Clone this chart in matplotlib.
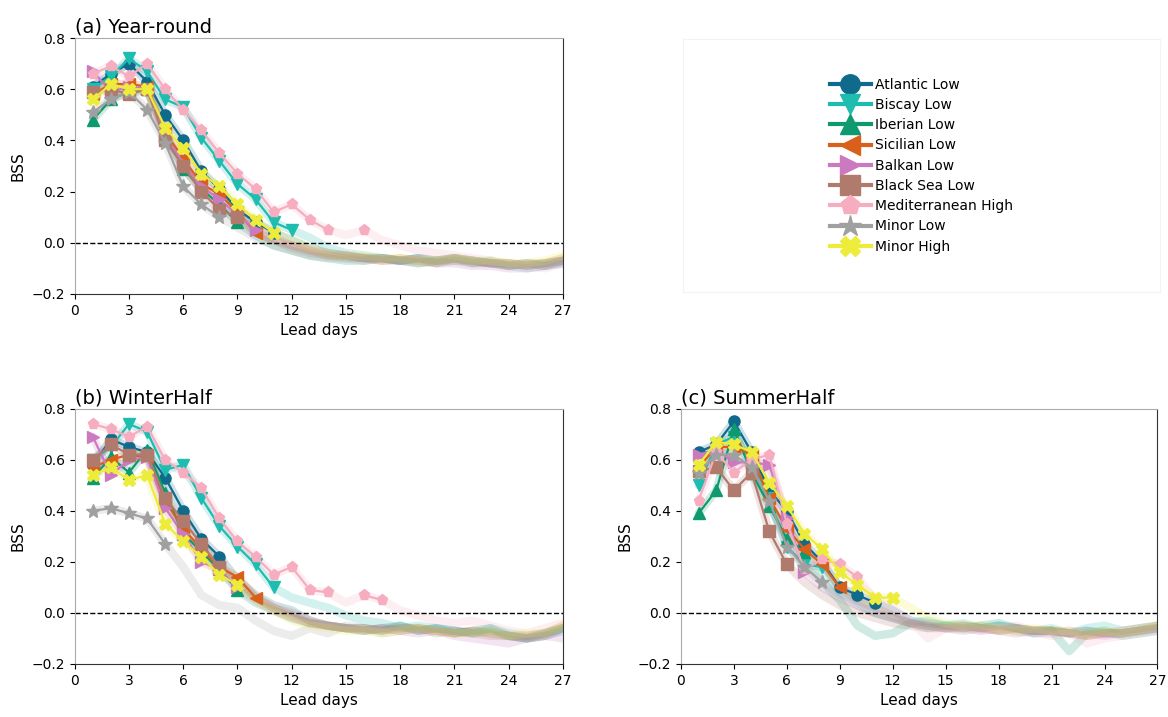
import numpy as np
import matplotlib
matplotlib.use('Agg')
import matplotlib.pyplot as plt
from matplotlib.lines import Line2D

days = list(range(1, 28))
names = ['Atlantic Low', 'Biscay Low', 'Iberian Low', 'Sicilian Low', 'Balkan Low',
         'Black Sea Low', 'Mediterranean High', 'Minor Low', 'Minor High']
colors = ['#0f6a8c', '#1fbdb0', '#0e9a6e', '#d9601a', '#cc7ac0',
          '#b07a6c', '#f7adc0', '#a0a0a0', '#eeec3a']
markers = ['o', 'v', '^', '<', '>', 's', 'p', '*', 'X']

# (a) Year-round
year_atl = [0.61, 0.66, 0.70, 0.63, 0.50, 0.40, 0.28, 0.21, 0.13, 0.08, 0.04, 0.01, -0.02, -0.04, -0.05, -0.06, -0.06, -0.07, -0.06, -0.07, -0.06, -0.07, -0.08, -0.08, -0.09, -0.08, -0.07]
year_bis = [0.60, 0.65, 0.72, 0.67, 0.56, 0.53, 0.41, 0.32, 0.23, 0.17, 0.08, 0.05, 0.02, -0.02, -0.04, -0.05, -0.06, -0.07, -0.06, -0.08, -0.07, -0.07, -0.08, -0.09, -0.10, -0.09, -0.08]
year_ibe = [0.48, 0.56, 0.59, 0.60, 0.43, 0.29, 0.21, 0.15, 0.08, 0.03, -0.01, -0.03, -0.05, -0.06, -0.07, -0.07, -0.06, -0.07, -0.08, -0.07, -0.06, -0.08, -0.07, -0.09, -0.08, -0.09, -0.07]
year_sic = [0.58, 0.62, 0.62, 0.61, 0.43, 0.33, 0.23, 0.19, 0.12, 0.04, 0.01, -0.01, -0.03, -0.05, -0.05, -0.06, -0.07, -0.06, -0.07, -0.08, -0.06, -0.07, -0.08, -0.08, -0.09, -0.08, -0.06]
year_bal = [0.67, 0.59, 0.61, 0.60, 0.42, 0.31, 0.22, 0.17, 0.11, 0.05, 0.02, -0.01, -0.03, -0.04, -0.05, -0.06, -0.06, -0.07, -0.07, -0.08, -0.08, -0.09, -0.09, -0.10, -0.10, -0.09, -0.08]
year_bla = [0.59, 0.60, 0.58, 0.60, 0.40, 0.30, 0.20, 0.13, 0.10, 0.04, 0.01, -0.02, -0.04, -0.05, -0.06, -0.06, -0.07, -0.07, -0.06, -0.07, -0.07, -0.08, -0.08, -0.09, -0.08, -0.08, -0.07]
year_med = [0.66, 0.69, 0.65, 0.70, 0.60, 0.52, 0.44, 0.35, 0.27, 0.21, 0.12, 0.15, 0.09, 0.05, 0.03, 0.05, 0.01, -0.01, -0.03, -0.04, -0.05, -0.06, -0.07, -0.08, -0.09, -0.10, -0.08]
year_mlo = [0.51, 0.56, 0.59, 0.52, 0.39, 0.22, 0.15, 0.10, 0.06, 0.02, -0.01, -0.03, -0.05, -0.06, -0.06, -0.07, -0.06, -0.07, -0.08, -0.07, -0.06, -0.07, -0.08, -0.09, -0.08, -0.09, -0.07]
year_mhi = [0.56, 0.62, 0.60, 0.60, 0.45, 0.37, 0.27, 0.22, 0.15, 0.09, 0.04, 0.01, -0.02, -0.04, -0.05, -0.05, -0.06, -0.06, -0.07, -0.07, -0.06, -0.07, -0.07, -0.08, -0.08, -0.07, -0.05]
year_sig = [list(range(1, 12)), list(range(1, 13)), list(range(1, 10)), list(range(1, 11)),
            list(range(1, 11)), list(range(1, 10)), list(range(1, 15)) + [16],
            list(range(1, 9)), list(range(1, 12))]

# (b) WinterHalf
win_atl = [0.58, 0.68, 0.65, 0.63, 0.53, 0.40, 0.29, 0.22, 0.13, 0.07, 0.03, 0.01, -0.03, -0.05, -0.06, -0.06, -0.07, -0.05, -0.07, -0.06, -0.07, -0.08, -0.07, -0.09, -0.10, -0.09, -0.07]
win_bis = [0.60, 0.65, 0.74, 0.71, 0.56, 0.58, 0.45, 0.34, 0.26, 0.19, 0.10, 0.06, 0.04, 0.02, -0.01, -0.03, -0.04, -0.06, -0.05, -0.06, -0.07, -0.08, -0.06, -0.08, -0.09, -0.08, -0.06]
win_ibe = [0.53, 0.61, 0.55, 0.64, 0.47, 0.31, 0.24, 0.17, 0.09, 0.04, 0.01, -0.02, -0.04, -0.05, -0.06, -0.07, -0.06, -0.05, -0.07, -0.06, -0.08, -0.07, -0.06, -0.09, -0.10, -0.08, -0.06]
win_sic = [0.57, 0.60, 0.62, 0.61, 0.44, 0.33, 0.25, 0.18, 0.14, 0.06, 0.02, -0.01, -0.04, -0.05, -0.06, -0.06, -0.07, -0.06, -0.06, -0.07, -0.08, -0.07, -0.08, -0.09, -0.09, -0.08, -0.05]
win_bal = [0.69, 0.54, 0.60, 0.61, 0.41, 0.31, 0.20, 0.17, 0.10, 0.05, 0.01, -0.02, -0.04, -0.05, -0.06, -0.07, -0.06, -0.07, -0.08, -0.07, -0.09, -0.10, -0.11, -0.12, -0.10, -0.09, -0.10]
win_bla = [0.60, 0.66, 0.62, 0.62, 0.45, 0.36, 0.27, 0.18, 0.12, 0.06, 0.02, 0.00, -0.03, -0.05, -0.06, -0.07, -0.06, -0.07, -0.06, -0.08, -0.07, -0.08, -0.09, -0.09, -0.10, -0.09, -0.06]
win_med = [0.74, 0.72, 0.69, 0.73, 0.60, 0.55, 0.49, 0.37, 0.28, 0.22, 0.15, 0.18, 0.09, 0.08, 0.04, 0.07, 0.05, 0.01, -0.01, -0.03, -0.04, -0.03, -0.05, -0.07, -0.08, -0.06, -0.04]
win_mlo = [0.40, 0.41, 0.39, 0.37, 0.27, 0.18, 0.07, 0.03, 0.02, -0.03, -0.07, -0.09, -0.06, -0.08, -0.05, -0.06, -0.08, -0.07, -0.06, -0.07, -0.08, -0.07, -0.08, -0.09, -0.10, -0.08, -0.06]
win_mhi = [0.54, 0.57, 0.52, 0.54, 0.35, 0.28, 0.22, 0.15, 0.11, 0.05, 0.01, -0.03, -0.05, -0.06, -0.07, -0.07, -0.08, -0.07, -0.06, -0.07, -0.08, -0.08, -0.07, -0.09, -0.08, -0.08, -0.05]
win_sig = [list(range(1, 9)), list(range(1, 12)), list(range(1, 10)), list(range(1, 11)),
           list(range(1, 10)), list(range(1, 9)), list(range(1, 15)) + [16, 17],
           list(range(1, 6)), list(range(1, 10))]

# (c) SummerHalf
sum_atl = [0.63, 0.66, 0.75, 0.63, 0.48, 0.40, 0.27, 0.20, 0.10, 0.07, 0.04, 0.01, -0.03, -0.04, -0.05, -0.05, -0.06, -0.05, -0.06, -0.07, -0.07, -0.08, -0.07, -0.08, -0.08, -0.07, -0.06]
sum_bis = [0.50, 0.66, 0.69, 0.60, 0.45, 0.26, 0.19, 0.18, 0.08, 0.04, 0.00, -0.02, -0.04, -0.03, -0.05, -0.04, -0.06, -0.05, -0.06, -0.07, -0.06, -0.08, -0.06, -0.05, -0.07, -0.06, -0.05]
sum_ibe = [0.39, 0.48, 0.72, 0.55, 0.42, 0.29, 0.24, 0.12, 0.05, -0.05, -0.09, -0.08, -0.04, -0.06, -0.05, -0.06, -0.05, -0.04, -0.06, -0.08, -0.07, -0.15, -0.08, -0.07, -0.09, -0.08, -0.07]
sum_sic = [0.57, 0.65, 0.65, 0.62, 0.45, 0.33, 0.25, 0.19, 0.10, 0.05, 0.02, -0.01, -0.04, -0.05, -0.06, -0.05, -0.06, -0.07, -0.06, -0.07, -0.07, -0.08, -0.09, -0.08, -0.07, -0.06, -0.05]
sum_bal = [0.62, 0.64, 0.59, 0.59, 0.58, 0.37, 0.16, 0.10, 0.06, 0.03, 0.00, -0.02, -0.04, -0.05, -0.06, -0.06, -0.07, -0.06, -0.07, -0.08, -0.08, -0.07, -0.08, -0.09, -0.08, -0.07, -0.06]
sum_bla = [0.555, 0.57, 0.48, 0.55, 0.32, 0.19, 0.12, 0.07, 0.03, 0.00, -0.02, -0.04, -0.05, -0.06, -0.06, -0.07, -0.06, -0.07, -0.08, -0.07, -0.07, -0.08, -0.09, -0.08, -0.08, -0.07, -0.06]
sum_med = [0.44, 0.63, 0.55, 0.60, 0.62, 0.35, 0.17, 0.21, 0.19, 0.14, 0.05, 0.02, -0.03, -0.10, -0.06, -0.05, -0.07, -0.06, -0.05, -0.07, -0.09, -0.08, -0.12, -0.10, -0.09, -0.08, -0.07]
sum_mlo = [0.55, 0.62, 0.62, 0.57, 0.44, 0.26, 0.18, 0.12, 0.07, 0.03, 0.00, -0.02, -0.04, -0.05, -0.06, -0.06, -0.05, -0.07, -0.06, -0.07, -0.07, -0.08, -0.07, -0.08, -0.08, -0.07, -0.05]
sum_mhi = [0.58, 0.67, 0.66, 0.63, 0.51, 0.42, 0.31, 0.25, 0.16, 0.11, 0.06, 0.06, 0.02, -0.02, -0.04, -0.05, -0.05, -0.06, -0.07, -0.06, -0.07, -0.07, -0.08, -0.07, -0.08, -0.07, -0.05]
sum_sig = [list(range(1, 12)), list(range(1, 9)), list(range(1, 8)), list(range(1, 10)),
           list(range(1, 8)), list(range(1, 7)), list(range(1, 11)),
           list(range(1, 9)), list(range(1, 13))]

panels = [
    ('(a) Year-round', [year_atl, year_bis, year_ibe, year_sic, year_bal, year_bla, year_med, year_mlo, year_mhi], year_sig),
    ('(b) WinterHalf', [win_atl, win_bis, win_ibe, win_sic, win_bal, win_bla, win_med, win_mlo, win_mhi], win_sig),
    ('(c) SummerHalf', [sum_atl, sum_bis, sum_ibe, sum_sic, sum_bal, sum_bla, sum_med, sum_mlo, sum_mhi], sum_sig),
]

fig = plt.figure(figsize=(11.68, 7.17), dpi=100)
rects = [[0.064, 0.590, 0.418, 0.357],
         [0.064, 0.074, 0.418, 0.356],
         [0.583, 0.074, 0.408, 0.356]]

x = np.array(days)
for rect, (title, series, sig) in zip(rects, panels):
    ax = fig.add_axes(rect)
    # faded full curves
    for vals, c in zip(series, colors):
        ax.plot(x, vals, color=c, lw=6, alpha=0.2, solid_capstyle='round', zorder=1)
    # significant days with markers
    for vals, c, m, s in zip(series, colors, markers, sig):
        y = np.array(vals, dtype=float)
        mask = np.isin(x, s)
        y = np.where(mask, y, np.nan)
        ms = 10 if m == '*' else 8
        ax.plot(x, y, color=c, marker=m, ms=ms, lw=1.6, zorder=3)
    ax.axhline(0, color='k', ls='--', lw=1, zorder=2)
    ax.set_xlim(0, 27)
    ax.set_ylim(-0.2, 0.8)
    ax.set_xticks(range(0, 28, 3))
    ax.set_yticks([-0.2, 0.0, 0.2, 0.4, 0.6, 0.8])
    ax.tick_params(labelsize=10)
    ax.set_xlabel('Lead days', fontsize=11)
    ax.set_ylabel('BSS', fontsize=11)
    ax.set_title(title, loc='left', fontsize=14, pad=4)
    for sp in ['top', 'left']:
        ax.spines[sp].set_color('#aaaaaa')
    for sp in ['bottom', 'right']:
        ax.spines[sp].set_color('#333333')

# legend panel
lax = fig.add_axes([0.585, 0.593, 0.408, 0.352])
lax.set_xticks([])
lax.set_yticks([])
for sp in lax.spines.values():
    sp.set_color('#f3f3f3')
handles = [Line2D([0], [0], color=c, marker=m, ms=(16 if m == '*' else 14), lw=3)
           for c, m in zip(colors, markers)]
lax.legend(handles, names, loc='center', frameon=False, fontsize=10,
           handlelength=3.0, labelspacing=0.45, handletextpad=0.3)

fig.savefig('out.png', dpi=100)
